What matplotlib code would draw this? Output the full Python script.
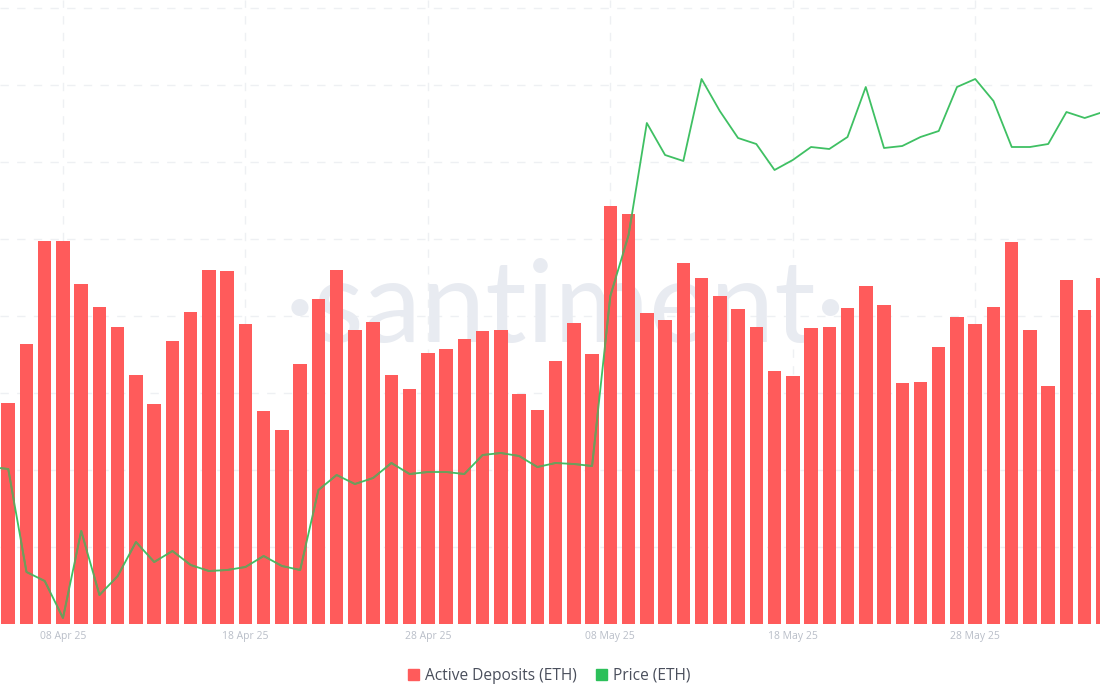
#!/usr/bin/python3
import numpy as np
import matplotlib
matplotlib.use('Agg')
import matplotlib.pyplot as plt
import matplotlib.dates as mdates
from matplotlib.patches import Patch
from matplotlib.path import Path
from datetime import datetime, timedelta

# values are in chart units (no y axis is shown)
active_deposits = [221, 280, 383, 383, 340, 317, 297, 249, 220, 283, 312, 354, 353, 300, 213,
                   194, 260, 325, 354, 294, 302, 249, 235, 271, 275, 285, 293, 294, 230, 214,
                   263, 301, 270, 418, 410, 311, 304, 361, 346, 328, 315, 297, 253, 248, 296,
                   297, 316, 338, 319, 241, 242, 277, 307, 300, 317, 382, 294, 238, 344, 314, 346]
price = [157, 155, 52, 43, 6, 93, 29, 48, 82, 62, 73, 59, 53, 54, 57, 68,
         58, 54, 134, 149, 140, 146, 161, 150, 152, 152, 150, 169, 171, 168, 157,
         161, 160, 158, 328, 389, 501, 469, 463, 545, 513, 486, 480, 454, 464, 477,
         475, 487, 537, 476, 478, 487, 493, 537, 545, 523, 477, 477, 480, 512, 506, 512]
tick_labels = ['08 Apr 25', '18 Apr 25', '28 Apr 25', '08 May 25', '18 May 25', '28 May 25']
tick_dates = [datetime(2025, 4, 8), datetime(2025, 4, 18), datetime(2025, 4, 28),
              datetime(2025, 5, 8), datetime(2025, 5, 18), datetime(2025, 5, 28)]
grid_levels = [77, 154, 231, 308, 385, 462, 539, 616]

bar_dates = [datetime(2025, 4, 5) + timedelta(days=i) for i in range(len(active_deposits))]
price_dates = [datetime(2025, 4, 4) + timedelta(days=i) for i in range(len(price))]

RED = '#ff5b5b'
GREEN = '#3fc063'
GREEN_LEGEND = '#2cc05a'
GREEN_ON_RED = '#74995a'

plt.rcParams['font.family'] = ['Open Sans', 'DejaVu Sans']

fig = plt.figure(figsize=(11, 7), dpi=100)
ax = fig.add_axes([0, 76 / 700, 1, 624 / 700])

start = mdates.date2num(bar_dates[0])
ax.set_xlim(start - 8.25 / 18.245, start + (1100 - 8.25) / 18.245)
ax.set_ylim(0, 624)

ax.set_xticks(tick_dates)
ax.set_xticklabels(tick_labels, fontsize=7.5, color='#b9bec8')
ax.set_yticks(grid_levels)
ax.tick_params(axis='both', length=0, labelleft=False, pad=5)
ax.grid(True, color='#eef0f3', linewidth=1, linestyle=(0, (6, 6)))
ax.set_axisbelow(True)
for side in ax.spines:
    ax.spines[side].set_visible(False)

ax.text(start + (565 - 8.25) / 18.245, 624 - 342, '\u00b7santiment\u00b7', fontsize=83, family='Lato',
        fontweight='normal', color='#e8ebf1', ha='center', va='baseline', zorder=1)

bars = ax.bar(bar_dates, active_deposits, width=0.74, color=RED, zorder=2)

ax.plot(price_dates, price, color=GREEN, linewidth=1.3, zorder=3)
# the line looks darker where it crosses the bars
over_bars = ax.plot(price_dates, price, color=GREEN_ON_RED, linewidth=1.3, zorder=4)[0]
bar_paths = [b.get_path().transformed(b.get_patch_transform()) for b in bars]
over_bars.set_clip_path(Path.make_compound_path(*bar_paths), ax.transData)

handles = [Patch(color=RED, label='Active Deposits (ETH)'), Patch(color=GREEN_LEGEND, label='Price (ETH)')]
fig.legend(handles=handles, loc='center', bbox_to_anchor=(549 / 1100, 1 - 676 / 700), ncols=2,
           frameon=False, fontsize=11.2, labelcolor='#4a4f5c', handlelength=0.72, handleheight=0.72,
           handletextpad=0.35, columnspacing=1.25)

fig.savefig('out.png', dpi=100)
